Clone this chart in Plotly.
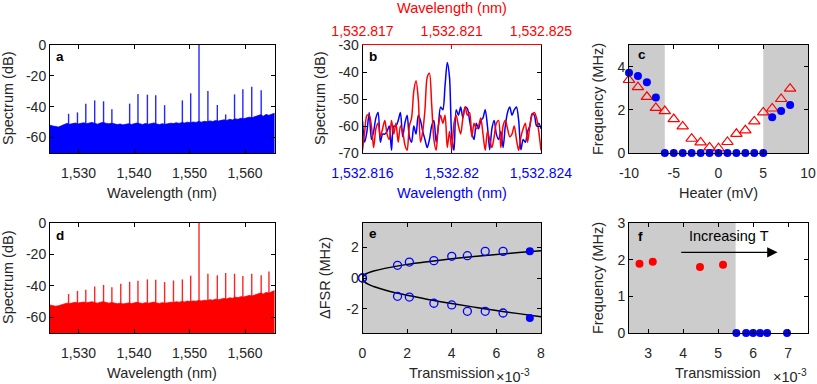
import numpy as np
import plotly.graph_objects as go

W, H = 817, 384
FONT = "Liberation Sans, Arial, sans-serif"
TXT = "#262626"
GRAY = "#cccccc"
BLUE = "#0000ff"
RED = "#ff0000"

# ---- panel a / d : comb spectra ----
a_spike_nm = [1528.2, 1529.8, 1531.3, 1532.9, 1534.5, 1536.0, 1539.2, 1540.7, 1542.4,
              1543.9, 1545.5, 1548.7, 1550.2, 1551.7, 1553.3, 1555.0, 1556.5, 1558.1,
              1559.6, 1561.2, 1562.9]
a_spike_db = [-44.6, -43.7, -38.0, -35.9, -36.5, -41.7, -38.0, -31.7, -32.2,
              -32.6, -39.0, -35.9, -31.3, 0.0, -29.8, -38.9, -45.0, -32.0,
              -28.7, -27.0, -29.3]
a_floor = [-52.0, -52.5, -53.0, -53.2, -52.4, -51.6, -50.8, -51.4, -51.0, -50.6,
           -51.2, -50.8, -50.4, -51.0, -50.6, -50.2, -50.9, -51.3, -50.5, -50.2,
           -50.8, -51.1, -50.7, -51.3, -51.6, -51.2, -51.8, -51.4, -51.0, -51.5,
           -51.2, -50.6, -51.1, -51.5, -50.9, -51.3, -51.0, -50.5, -51.2, -51.6,
           -51.0, -51.4, -51.1, -50.7, -50.9, -50.4, -50.8, -50.3, -50.6, -50.0,
           -50.4, -49.9, -50.2, -49.6, -50.0, -49.5, -49.8, -49.2, -49.6, -49.0,
           -49.3, -48.8, -48.5, -48.9, -48.2, -48.6, -47.9, -48.2, -47.5, -47.8,
           -47.2, -46.8, -47.1, -46.4, -46.0, -45.2, -46.1, -45.0, -45.6, -44.8, -44.2]

d_spike_nm = [1528.2, 1529.8, 1531.3, 1532.9, 1534.5, 1536.0, 1537.6, 1539.2, 1540.7,
              1542.4, 1543.9, 1545.5, 1547.1, 1548.7, 1550.2, 1551.7, 1553.3, 1555.0,
              1556.5, 1558.1, 1559.6, 1561.2, 1562.9, 1564.3]
d_spike_db = [-45.2, -43.2, -42.4, -40.4, -39.4, -40.9, -38.7, -37.4, -36.8,
              -35.9, -36.1, -37.6, -36.6, -35.9, -33.5, 0.0, -32.3, -33.3,
              -31.8, -32.3, -33.8, -32.3, -33.3, -30.8]
d_floor = [-52.2, -52.6, -52.9, -52.7, -52.1, -51.5, -51.0, -51.3, -50.8, -50.5,
           -50.9, -50.6, -50.3, -50.8, -50.5, -50.1, -50.7, -51.0, -50.4, -50.1,
           -50.6, -51.0, -50.6, -51.1, -51.4, -51.0, -51.5, -51.2, -50.9, -51.3,
           -51.0, -50.5, -50.9, -51.2, -50.7, -51.0, -50.8, -50.3, -50.9, -51.2,
           -50.7, -51.0, -50.8, -50.4, -50.6, -50.1, -50.4, -50.0, -50.2, -49.7,
           -50.0, -49.6, -49.8, -49.3, -49.6, -49.1, -49.3, -48.8, -49.1, -48.5,
           -48.8, -48.3, -48.0, -48.3, -47.6, -47.9, -47.2, -47.5, -46.9, -47.1,
           -46.6, -46.1, -46.4, -45.7, -45.3, -44.6, -45.2, -44.2, -44.6, -43.6, -43.0]
spec_xlim = [1524.85, 1565.3]

# ---- panel b : zoomed spectra (blue on bottom axis, red on top axis) ----
b_blue_lim = [1532.816, 1532.824]
b_red_lim = [1532.817, 1532.825]
b_blue = [-58, -66, -62, -55, -65, -62, -57, -55, -66, -63,
          -63, -62, -60, -69, -60, -60, -58, -55, -64, -59,
          -56, -64, -66, -60, -63, -56, -58, -62, -65, -68,
          -65, -60, -58, -66, -60, -53, -54, -45, -36.5, -42,
          -64, -69, -54, -56, -53, -57, -53, -53.6, -58, -62.7,
          -65, -59, -61, -58, -57, -54, -60, -68.8, -61, -58,
          -63, -65, -62, -68, -60, -55, -53, -56, -54, -53,
          -58, -68.8, -65, -66, -62, -60, -55.4, -56, -60, -59, -61]
b_red = [-69, -62, -56, -56, -60, -68, -61, -59, -64, -61,
         -58, -63, -65, -58, -63, -59, -66, -60, -62, -67,
         -69, -60, -57, -47, -43.2, -50, -66, -62, -54, -42,
         -40.5, -52, -65, -69, -60, -56, -59, -56, -68, -62,
         -69, -59, -56, -60, -63, -57, -53, -56, -55, -64,
         -59, -61, -60, -57, -63, -69, -62, -65, -68, -64,
         -59, -58, -68, -60, -58, -61, -64, -63, -60, -65,
         -69, -64, -61, -59, -66, -60, -56, -55, -57, -62, -69]

# ---- panel c : frequency vs heater ----
c_blue_x = [-10, -9, -8, -7, -6, -5, -4, -3, -2, -1, 0, 1, 2, 3, 4, 5, 6, 7, 8]
c_blue_y = [3.72, 3.57, 3.28, 2.57, 0, 0, 0, 0, 0, 0, 0, 0, 0, 0, 0, 0, 1.66, 1.95, 2.22]
c_red_x = [-10, -9, -8, -7, -6, -5, -4, -3, -2, -1, 0, 1, 2, 3, 4, 5, 6, 7, 8]
c_red_y = [3.38, 3.05, 2.6, 2.09, 1.94, 1.57, 1.23, 0.66, 0.49, 0.26, 0.22,
           0.51, 0.89, 1.05, 1.46, 1.88, 2.06, 2.5, 2.98]
c_gray = [[-10, -6], [5, 10]]

# ---- panel e : delta FSR vs transmission (x 1e-3) ----
e_x = [0, 1.57, 2.1, 3.2, 4.0, 4.7, 5.5, 6.3]
e_up = [0, 0.82, 1.03, 1.12, 1.4, 1.44, 1.72, 1.72]
e_dn = [0, -1.18, -1.23, -1.63, -1.74, -2.15, -2.15, -2.26]
e_fill_x = [7.5, 7.5]
e_fill_y = [1.72, -2.58]
e_fit_x = [0, 0.1, 0.25, 0.5, 1, 2, 3, 4, 5, 6, 7, 8]
e_fit_up = [0, 0.22, 0.33, 0.45, 0.62, 0.88, 1.07, 1.24, 1.39, 1.52, 1.64, 1.76]
e_fit_dn = [0, -0.25, -0.4, -0.55, -0.78, -1.12, -1.4, -1.65, -1.88, -2.1, -2.3, -2.5]

# ---- panel f : frequency vs transmission (x 1e-3) ----
f_red_x = [2.75, 3.13, 4.48, 5.14]
f_red_y = [1.89, 1.94, 1.8, 1.86]
f_blue_x = [5.52, 5.8, 6.0, 6.2, 6.4, 6.97]
f_blue_y = [0, 0, 0, 0, 0, 0]
f_gray_end = 5.5


def px(x):
    return x / W


def py(y):
    return 1 - y / H


def axis(domain, rng, tickvals, ticktext, anchor, **kw):
    d = dict(domain=domain, range=rng, tickvals=tickvals, ticktext=ticktext,
             anchor=anchor, showline=True, linecolor="black", linewidth=1,
             mirror="ticks", ticks="inside", ticklen=4, tickcolor="black",
             showgrid=False, zeroline=False, automargin=False,
             tickfont=dict(family=FONT, size=14, color=TXT))
    d.update(kw)
    return d


def xaxis(*a, **kw):
    kw.setdefault("ticklabelstandoff", 7)
    return axis(*a, **kw)


fig = go.Figure()


def spikes(xs, ys):
    sx, sy = [], []
    for x, y in zip(xs, ys):
        sx += [x, x, None]
        sy += [-70, y, None]
    return sx, sy


for floor, sxs, sys_, col, ax, ay in [(a_floor, a_spike_nm, a_spike_db, BLUE, "x", "y"),
                                       (d_floor, d_spike_nm, d_spike_db, RED, "x4", "y4")]:
    fx = list(np.linspace(spec_xlim[0], spec_xlim[1], len(floor)))
    fig.add_trace(go.Scatter(x=[fx[0]] + fx + [fx[-1]], y=[-70] + floor + [-70],
                             fill="toself", fillcolor=col, mode="lines",
                             line=dict(color=col, width=0.8), xaxis=ax, yaxis=ay))
    sx, sy = spikes(sxs, sys_)
    fig.add_trace(go.Scatter(x=sx, y=sy, mode="lines", line=dict(color=col, width=1.4),
                             opacity=0.85, xaxis=ax, yaxis=ay))

fig.add_trace(go.Scatter(x=np.linspace(b_blue_lim[0], b_blue_lim[1], len(b_blue)), y=b_blue,
                         mode="lines", line=dict(color=BLUE, width=1.5, shape="spline", smoothing=0.8),
                         xaxis="x2", yaxis="y2"))
fig.add_trace(go.Scatter(x=np.linspace(b_red_lim[0], b_red_lim[1], len(b_red)), y=b_red,
                         mode="lines", line=dict(color=RED, width=1.5, shape="spline", smoothing=0.8),
                         xaxis="x7", yaxis="y2"))

fig.add_trace(go.Scatter(x=c_red_x, y=c_red_y, mode="markers", cliponaxis=False,
                         marker=dict(symbol="triangle-up-open", size=10, color=RED, line=dict(width=1.2)),
                         xaxis="x3", yaxis="y3"))
fig.add_trace(go.Scatter(x=c_blue_x, y=c_blue_y, mode="markers", cliponaxis=False,
                         marker=dict(symbol="circle", size=8, color=BLUE),
                         xaxis="x3", yaxis="y3"))

for fy in [e_fit_up, e_fit_dn]:
    fig.add_trace(go.Scatter(x=e_fit_x, y=fy, mode="lines",
                             line=dict(color="black", width=1.5, shape="spline"),
                             xaxis="x5", yaxis="y5"))
fig.add_trace(go.Scatter(x=e_x + e_x, y=e_up + e_dn, mode="markers", cliponaxis=False,
                         marker=dict(symbol="circle-open", size=8, color=BLUE, line=dict(width=1.3)),
                         xaxis="x5", yaxis="y5"))
fig.add_trace(go.Scatter(x=e_fill_x, y=e_fill_y, mode="markers",
                         marker=dict(symbol="circle", size=8, color=BLUE),
                         xaxis="x5", yaxis="y5"))

fig.add_trace(go.Scatter(x=f_red_x, y=f_red_y, mode="markers",
                         marker=dict(symbol="circle", size=8, color=RED),
                         xaxis="x6", yaxis="y6"))
fig.add_trace(go.Scatter(x=f_blue_x, y=f_blue_y, mode="markers", cliponaxis=False,
                         marker=dict(symbol="circle", size=8, color=BLUE),
                         xaxis="x6", yaxis="y6"))

# domains (pixels -> paper)
top = [py(153), py(45)]
bot = [py(333), py(223)]
colA = [px(50), px(274.5)]
colB = [px(362.5), px(541)]
colC = [px(629), px(808)]

spec_ticks = [1530, 1540, 1550, 1560]
spec_text = ["1,530", "1,540", "1,550", "1,560"]
db_ticks = [-60, -40, -20, 0]
db_text = ["-60", "-40", "-20", "0"]

fig.update_layout(
    width=W, height=H, margin=dict(l=0, r=0, t=0, b=0),
    paper_bgcolor="white", plot_bgcolor="white", showlegend=False,
    xaxis=xaxis(colA, spec_xlim, spec_ticks, spec_text, "y"),
    yaxis=axis(top, [-70, 0], db_ticks, db_text, "x"),
    xaxis4=xaxis(colA, spec_xlim, spec_ticks, spec_text, "y4"),
    yaxis4=axis(bot, [-70, 0], db_ticks, db_text, "x4"),
    xaxis2=xaxis(colB, b_blue_lim, [1532.816, 1532.82, 1532.824],
                 ["1,532.816", "1,532.82", "1,532.824"], "y2",
                 mirror=False, linecolor=BLUE, tickcolor=BLUE,
                 tickfont=dict(family=FONT, size=14, color=BLUE)),
    xaxis7=xaxis(colB, b_red_lim, [1532.817, 1532.821, 1532.825],
                 ["1,532.817", "1,532.821", "1,532.825"], "y2",
                 overlaying="x2", side="top", mirror=False, linecolor=RED, tickcolor=RED,
                 ticklabelstandoff=2,
                 tickfont=dict(family=FONT, size=14, color=RED)),
    yaxis2=axis(top, [-70, -30], [-70, -60, -50, -40, -30],
                ["-70", "-60", "-50", "-40", "-30"], "x2"),
    xaxis3=xaxis(colC, [-10, 10], [-10, -5, 0, 5, 10], ["-10", "-5", "0", "5", "10"], "y3"),
    yaxis3=axis(top, [0, 5], [0, 2, 4], ["0", "2", "4"], "x3"),
    xaxis5=xaxis(colB, [0, 8], [0, 2, 4, 6, 8], ["0", "2", "4", "6", "8"], "y5"),
    yaxis5=axis(bot, [-3.55, 3.55], [-2, 0, 2], ["-2", "0", "2"], "x5"),
    xaxis6=xaxis(colC, [2.45, 7.57], [3, 4, 5, 6, 7], ["3", "4", "5", "6", "7"], "y6"),
    yaxis6=axis(bot, [0, 3], [0, 1, 2, 3], ["0", "1", "2", "3"], "x6"),
)

shapes = []
for x0, x1 in c_gray:
    shapes.append(dict(type="rect", xref="x3", yref="y3 domain", x0=x0, x1=x1, y0=0, y1=1,
                       fillcolor=GRAY, line=dict(width=0), layer="below"))
shapes.append(dict(type="rect", xref="x5 domain", yref="y5 domain", x0=0, x1=1, y0=0, y1=1,
                   fillcolor=GRAY, line=dict(width=0), layer="below"))
shapes.append(dict(type="rect", xref="x6", yref="y6 domain", x0=2.45, x1=f_gray_end, y0=0, y1=1,
                   fillcolor=GRAY, line=dict(width=0), layer="below"))
fig.update_layout(shapes=shapes)


def note(x, y, text, size=14.5, color=TXT, angle=0, bold=False, xanchor="center"):
    if bold:
        text = "<b>" + text + "</b>"
    fig.add_annotation(x=px(x), y=py(y), xref="paper", yref="paper", text=text,
                       showarrow=False, textangle=angle, xanchor=xanchor, yanchor="middle",
                       font=dict(family=FONT, size=size, color=color))


# axis titles
note(8, 99, "Spectrum (dB)", angle=-90)
note(8, 278, "Spectrum (dB)", angle=-90)
note(162, 193, "Wavelength (nm)")
note(162, 373, "Wavelength (nm)")
note(320, 99, "Spectrum (dB)", angle=-90)
note(452, 8, "Wavelength (nm)", color=RED)
note(452, 193, "Wavelength (nm)", color=BLUE)
note(598, 99, "Frequency (MHz)", angle=-90)
note(718, 193, "Heater (mV)")
note(325, 278, "ΔFSR (MHz)", angle=-90)
note(452, 373, "Transmission")
note(494, 376, "×10<sup>-3</sup>", xanchor="left")
note(598, 278, "Frequency (MHz)", angle=-90)
note(718, 373, "Transmission")
note(771, 376, "×10<sup>-3</sup>", xanchor="left")

# panel letters
for x, y, t in [(60, 56, "a"), (373, 56, "b"), (642, 55, "c"),
                (60, 235, "d"), (373, 233, "e"), (640, 236, "f")]:
    note(x, y, t, size=13.5, color="black", bold=True)

# arrow in f
fig.add_annotation(x=6.7, y=2.2, ax=3.9, ay=2.2, xref="x6", yref="y6", axref="x6", ayref="y6",
                   text="", showarrow=True, arrowhead=2, arrowsize=1.6, arrowwidth=1.3,
                   arrowcolor="black")
fig.add_annotation(x=5.3, y=2.64, xref="x6", yref="y6", text="Increasing T", showarrow=False,
                   font=dict(family=FONT, size=14.5, color="black"))

fig.write_html("out.html", config={"displayModeBar": False},
               post_script="document.body.style.margin='0';")
